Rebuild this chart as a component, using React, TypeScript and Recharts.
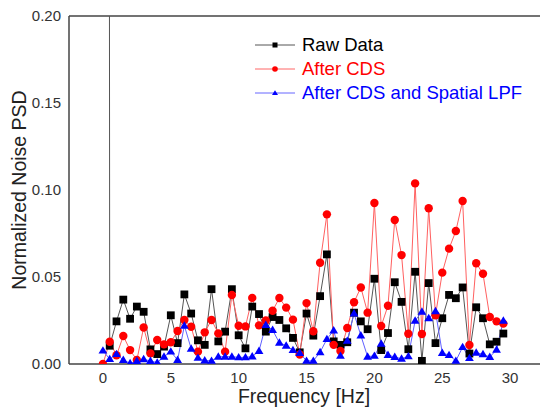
import { Legend, Line, LineChart, ReferenceLine, XAxis, YAxis } from "recharts";

const freq = [
  0, 0.5, 1, 1.5, 2, 2.5, 3, 3.5, 4, 4.5, 5, 5.5, 6, 6.5, 7, 7.5, 8, 8.5, 9, 9.5,
  10, 10.5, 11, 11.5, 12, 12.5, 13, 13.5, 14, 14.5, 15, 15.5, 16, 16.5, 17, 17.5, 18, 18.5, 19, 19.5,
  20, 20.5, 21, 21.5, 22, 22.5, 23, 23.5, 24, 24.5, 25, 25.5, 26, 26.5, 27, 27.5, 28, 28.5, 29, 29.5,
];

const rawData = [
  5.0, 0.0105, 0.0245, 0.037, 0.026, 0.033, 0.03, 0.0084, 0.0057, 0.01,
  0.028, 0.012, 0.04, 0.029, 0.0136, 0.011, 0.043, 0.013, 0.0186, 0.043,
  0.0165, 0.009, 0.033, 0.0287, 0.0186, 0.027, 0.0253, 0.0205, 0.015, 0.0067,
  0.029, 0.0163, 0.039, 0.063, 0.013, 0.011, 0.0125, 0.0295, 0.0245, 0.02,
  0.049, 0.008, 0.0178, 0.047, 0.0357, 0.0085, 0.053, 0.0018, 0.0465, 0.012,
  0.0263, 0.0397, 0.0378, 0.044, 0.006, 0.0326, 0.0263, 0.0113, 0.0128, 0.0175,
];

const afterCds = [
  0, 0.0128, 0.005, 0.0161, 0.008, 0.0023, 0.021, 0.0061, 0.0138, 0.0113,
  0.0125, 0.019, 0.0253, 0.0214, 0.0071, 0.0182, 0.0253, 0.0176, 0.0071, 0.0397,
  0.022, 0.0216, 0.038, 0.0222, 0.025, 0.0306, 0.0379, 0.0324, 0.0255, 0.0055,
  0.035, 0.0188, 0.0582, 0.086, 0.011, 0.0075, 0.0207, 0.0355, 0.044, 0.0295,
  0.0925, 0.0218, 0.0335, 0.0828, 0.0626, 0.0174, 0.1038, 0.0172, 0.0895, 0.028,
  0.0525, 0.0663, 0.0764, 0.0937, 0.0109, 0.0579, 0.0519, 0.027, 0.0245, 0.0232,
];

const afterLpf = [
  0.0077, 0.0028, 0.0057, 0.0023, 0.0004, 0.0017, 0.0027, 0.0017, 0.0008, 0.0042,
  0.0071, 0.0023, 0.022, 0.0088, 0.0035, 0.002, 0.0018, 0.0042, 0.0042, 0.0042,
  0.0038, 0.0038, 0.0043, 0.0075, 0.0224, 0.0195, 0.0122, 0.0105, 0.008, 0.0063,
  0.0018, 0.0018, 0.0068, 0.0143, 0.0193, 0.0047, 0.0133, 0.029, 0.0164, 0.0042,
  0.0047, 0.0116, 0.0052, 0.004, 0.003, 0.0044, 0.0249, 0.03, 0.0263, 0.0303,
  0.0063, 0.0051, 0.0018, 0.0097, 0.0034, 0.0065, 0.0056, 0.004, 0.0082, 0.0249,
];

const xTicks = [0, 5, 10, 15, 20, 25, 30];
const yTicks = [0, 0.05, 0.1, 0.15, 0.2];

const data = freq.map((f, i) => ({
  f,
  raw: rawData[i],
  cds: afterCds[i],
  lpf: afterLpf[i],
}));

const FONT = '"Liberation Sans", Arial, sans-serif';

const legendItems = [
  { label: "Raw Data", text: "#000000", line: "#555555", fill: "#000000", shape: "square" },
  { label: "After CDS", text: "#ff0000", line: "#ff6666", fill: "#ff0000", shape: "circle" },
  { label: "After CDS and Spatial LPF", text: "#0000ff", line: "#6666ff", fill: "#0000ff", shape: "triangle" },
];

function Marker({ shape, cx, cy, fill, size }: { shape: string; cx: number; cy: number; fill: string; size: number }) {
  if (shape === "square") {
    return <rect x={cx - size / 2} y={cy - size / 2} width={size} height={size} fill={fill} />;
  }
  if (shape === "circle") {
    return <circle cx={cx} cy={cy} r={size / 2 + 0.3} fill={fill} />;
  }
  const h = size * 0.95;
  return (
    <polygon
      points={`${cx},${cy - h * 0.6} ${cx - size / 2 - 0.5},${cy + h * 0.4} ${cx + size / 2 + 0.5},${cy + h * 0.4}`}
      fill={fill}
    />
  );
}

const makeDot = (shape: string, fill: string) => (props: any) => {
  const { cx, cy, index, value } = props;
  if (cx == null || cy == null || value > 0.2) return <g key={`${shape}-${index}`} />;
  return (
    <g key={`${shape}-${index}`}>
      <Marker shape={shape} cx={cx} cy={cy} fill={fill} size={7.8} />
    </g>
  );
};

function renderLegend() {
  return (
    <div style={{ fontFamily: FONT, fontSize: 18.5 }}>
      {legendItems.map((item) => (
        <div key={item.label} style={{ display: "flex", alignItems: "center", height: 24 }}>
          <svg width={44} height={14} style={{ marginRight: 4 }}>
            <line x1={1} y1={7} x2={41} y2={7} stroke={item.line} strokeWidth={1} />
            <Marker shape={item.shape} cx={21} cy={7} fill={item.fill} size={5} />
          </svg>
          <span style={{ color: item.text }}>{item.label}</span>
        </div>
      ))}
    </div>
  );
}

function YLabel() {
  return (
    <text
      x={19}
      y={190}
      transform="rotate(-90 19 190)"
      textAnchor="middle"
      dominantBaseline="central"
      fontFamily={FONT}
      fontSize={19.5}
      fill="#222"
    >
      Normalized Noise PSD
    </text>
  );
}

function XLabel() {
  return (
    <text x={304} y={403} textAnchor="middle" fontFamily={FONT} fontSize={19.5} fill="#222">
      Frequency [Hz]
    </text>
  );
}

export default function App() {
  return (
    <div>
      <style>{`body { margin: 0; }`}</style>
      <LineChart
        width={540}
        height={414}
        data={data}
        margin={{ top: 16, right: 0, bottom: 0, left: 0 }}
        style={{ fontFamily: FONT }}
      >
        <XAxis
          dataKey="f"
          type="number"
          domain={[-2.5, 32.2]}
          ticks={xTicks}
          allowDataOverflow
          tickLine={false}
          height={50}
          axisLine={{ stroke: "#444", strokeWidth: 1.5 }}
          tick={{ fill: "#333", fontSize: 15 }}
          label={<XLabel />}
        />
        <YAxis
          type="number"
          domain={[0, 0.2]}
          ticks={yTicks}
          allowDataOverflow
          tickLine={false}
          width={69}
          axisLine={{ stroke: "#444", strokeWidth: 1.5 }}
          tick={{ fill: "#333", fontSize: 15 }}
          tickFormatter={(v: number) => v.toFixed(2)}
          label={<YLabel />}
        />
        <ReferenceLine y={0.2} stroke="#444" strokeWidth={1.5} />
        <Legend
          layout="vertical"
          align="center"
          verticalAlign="middle"
          content={renderLegend}
          wrapperStyle={{ left: 254, top: 33, width: 285 }}
        />
        <Line
          dataKey="raw"
          stroke="#555555"
          strokeWidth={1}
          dot={makeDot("square", "#000000")}
          activeDot={false}
          isAnimationActive={false}
        />
        <Line
          dataKey="cds"
          stroke="#ff6060"
          strokeWidth={1}
          dot={makeDot("circle", "#ff0000")}
          activeDot={false}
          isAnimationActive={false}
        />
        <Line
          dataKey="lpf"
          stroke="#6060ff"
          strokeWidth={1}
          dot={makeDot("triangle", "#0000ff")}
          activeDot={false}
          isAnimationActive={false}
        />
      </LineChart>
    </div>
  );
}
